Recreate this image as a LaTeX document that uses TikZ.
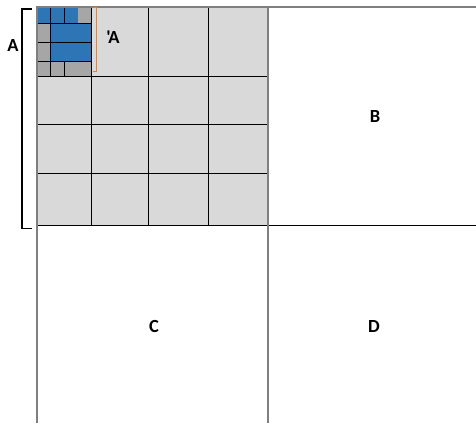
\documentclass[tikz,border=0pt]{standalone}
\usepackage{fontspec}
\setmainfont{Carlito}
\definecolor{cellgray}{HTML}{D9D9D9}
\definecolor{smallgray}{HTML}{A6A6A6}
\definecolor{qblue}{HTML}{2E75B6}
\definecolor{outlinegray}{HTML}{7F7F7F}
\definecolor{qorange}{HTML}{ED7D31}
\begin{document}
\begin{tikzpicture}[x=1pt,y=-1pt,
  lbl/.style={font=\bfseries\fontsize{18.5}{18.5}\selectfont, inner sep=0pt},
  gridline/.style={black, line width=1pt},
  outerline/.style={outlinegray, line width=1.6pt},
  bracketline/.style={line width=1.6pt}]
\useasboundingbox (0,0) rectangle (476,423);
% big gray block
\fill[cellgray] (37,7) rectangle (267.7,225);
% small cells in the top-left cell
\fill[qblue] (37,7) rectangle (78.3,23.3);
\fill[smallgray] (78.3,7) rectangle (91.7,23.3);
\fill[smallgray] (37,23.3) rectangle (50.7,61);
\fill[qblue] (50.7,23.3) rectangle (91.7,61);
\fill[smallgray] (37,61) rectangle (91.7,76);
\draw[gridline] (50.7,7) -- (50.7,76);
\draw[gridline] (64.3,7) -- (64.3,23.3) (64.3,61) -- (64.3,76);
\draw[gridline] (37,23.3) -- (91.7,23.3) (37,42.3) -- (91.7,42.3) (37,61) -- (91.7,61);
% big grid lines
\foreach \gx in {91.7,148.3,208.3}
  \draw[gridline] (\gx,7) -- (\gx,225);
\foreach \gy in {76,124,173.3}
  \draw[gridline] (37,\gy) -- (267.7,\gy);
\draw[gridline] (37,225) -- (476,225);
% outer lines
\draw[outerline] (476,7) -- (37,7) -- (37,423);
\draw[outerline] (267.7,7) -- (267.7,423);
% brackets
\coordinate (bt) at (32,8.7);
\coordinate (bb) at (32,228.3);
\draw[bracketline] (bt) -- (22,8.7) -- (22,228.3) -- (bb);
\coordinate (ot) at (93.3,7.3);
\coordinate (ob) at (93.3,71.7);
\draw[qorange, line width=1.4pt] (ot) -- (96.7,7.3) -- (96.7,71.7) -- (ob);
% labels
\node[lbl] (lA) at (13,46) {A};
\node[lbl] (lAp) at (113,37.5) {\textquotesingle\kern-2.5pt A};
\node[lbl] (lB) at (375,116) {B};
\node[lbl] (lC) at (154,326) {C};
\node[lbl] (lD) at (374,326) {D};
\end{tikzpicture}
\end{document}
